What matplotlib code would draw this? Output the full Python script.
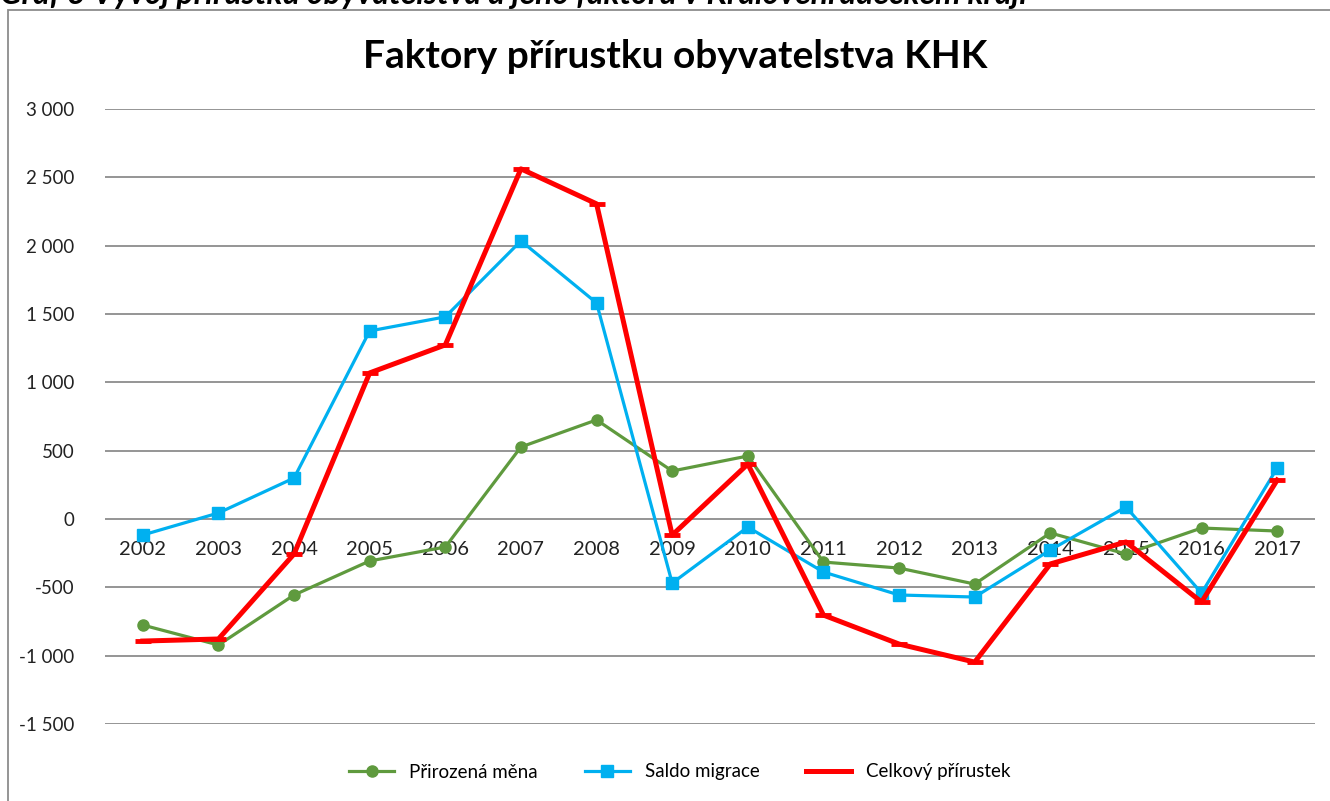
import numpy as np
import matplotlib.pyplot as plt
from matplotlib.patches import Rectangle

plt.rcParams['font.family'] = ['Lato', 'DejaVu Sans']

years = [str(y) for y in range(2002, 2018)]
prirozena = [-776, -922, -556, -307, -205, 527, 725, 351, 461, -315, -359, -476, -102, -256, -66, -88]
saldo = [-117, 44, 300, 1376, 1479, 2035, 1581, -469, -59, -388, -556, -571, -227, 88, -542, 373]
celkovy = [-893, -878, -256, 1069, 1274, 2562, 2306, -118, 402, -703, -915, -1047, -329, -168, -608, 285]

fig = plt.figure(figsize=(13.3, 8.01), dpi=100)
ax = fig.add_axes([105 / 1330, 1 - 724 / 801, 1210 / 1330, 615 / 801])

x = np.arange(len(years))
ax.plot(x, prirozena, color='#5f9a3e', lw=2.3, marker='o', ms=8, label='Přirozená měna', zorder=3)
ax.plot(x, saldo, color='#00b0f0', lw=2.3, marker='s', ms=8.5, label='Saldo migrace', zorder=4)
ax.plot(x, celkovy, color='#ff0000', lw=3.6, marker='_', ms=11, mew=3.5, label='Celkový přírustek', zorder=5)

ax.set_xlim(-0.5, len(years) - 0.5)
ax.set_ylim(-1500, 3000)
ax.set_yticks(range(-1500, 3001, 500))
ax.set_yticklabels([f'{v:,}'.replace(',', ' ') for v in range(-1500, 3001, 500)])
ax.yaxis.grid(True, color='#8c8c8c', lw=1.3)
ax.set_axisbelow(True)
ax.set_xticks(x)
ax.set_xticklabels(years)
for s in ['top', 'right', 'left']:
    ax.spines[s].set_visible(False)
ax.spines['bottom'].set_position(('data', 0))
ax.spines['bottom'].set_visible(False)
ax.tick_params(axis='x', length=0, pad=16, labelsize=14.5, colors='#222222')
ax.tick_params(axis='y', length=0, pad=22, labelsize=13.5, colors='#222222')

fig.text(675 / 1330, 1 - 57 / 801, 'Faktory přírustku obyvatelstva KHK', ha='center', va='center',
         fontsize=28, fontweight='bold')
# caption above the chart, cut off at the top edge as in the source
fig.text(0.0, 1 - 4 / 801, 'Graf 3 Vývoj přírůstku obyvatelstva a jeho faktorů v Královéhradeckém kraji',
         ha='left', va='baseline', fontsize=23, fontweight='bold', style='italic')

fig.patches.append(Rectangle((8 / 1330, -0.1), 1.2, 1.1 - 10 / 801, transform=fig.transFigure,
                             fill=False, edgecolor='#8c8c8c', lw=1.3))

fig.legend(loc='center', bbox_to_anchor=(680 / 1330, 1 - 772 / 801), ncol=3, frameon=False,
           fontsize=13.5, handlelength=2.4, columnspacing=2.5)

fig.savefig('out.png', dpi=100)
